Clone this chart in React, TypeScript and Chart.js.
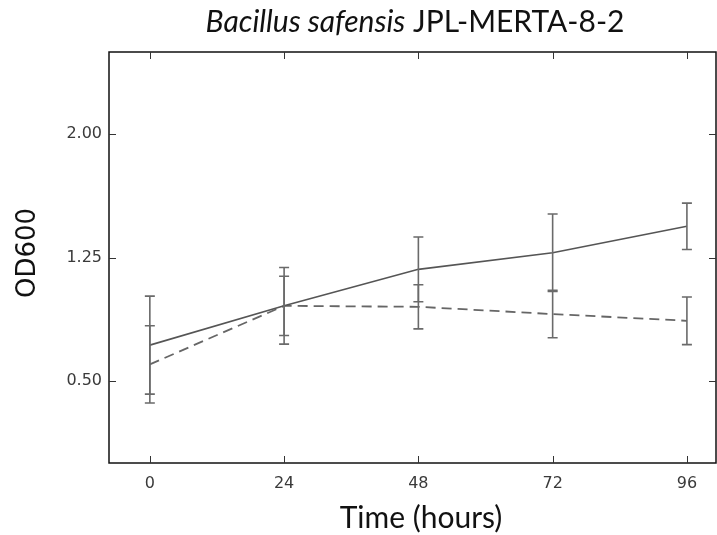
import React, { useEffect, useRef } from "react";
import { Chart, registerables } from "chart.js";

Chart.register(...registerables);

const hours = [0, 24, 48, 72, 96];
const solidValues = [0.717, 0.956, 1.178, 1.279, 1.44];
const solidErrors = [0.298, 0.233, 0.197, 0.236, 0.141];
const dashedValues = [0.6, 0.956, 0.95, 0.906, 0.865];
const dashedErrors = [0.235, 0.18, 0.134, 0.144, 0.145];
const yTicks = [0.5, 1.25, 2.0];
const titleItalic = "Bacillus safensis";
const titleRest = " JPL-MERTA-8-2";
const xTitle = "Time (hours)";
const yTitle = "OD600";

const errorBars = [solidErrors, dashedErrors];

const decorPlugin = {
  id: "decor",
  afterDatasetsDraw(chart: any) {
    const ctx = chart.ctx;
    const xs = chart.scales.x;
    const ys = chart.scales.y;
    const area = chart.chartArea;
    ctx.save();
    chart.data.datasets.forEach((ds: any, di: number) => {
      const errs = errorBars[di];
      ctx.strokeStyle = "#6a6a6a";
      ctx.lineWidth = 1.6;
      ds.data.forEach((p: any, i: number) => {
        const x = xs.getPixelForValue(p.x);
        const yt = ys.getPixelForValue(p.y + errs[i]);
        const yb = ys.getPixelForValue(p.y - errs[i]);
        ctx.beginPath();
        ctx.moveTo(x, yt);
        ctx.lineTo(x, yb);
        ctx.moveTo(x - 5, yt);
        ctx.lineTo(x + 5, yt);
        ctx.moveTo(x - 5, yb);
        ctx.lineTo(x + 5, yb);
        ctx.stroke();
      });
    });
    ctx.strokeStyle = "#111";
    ctx.lineWidth = 1.5;
    ctx.strokeRect(area.left, area.top, area.right - area.left, area.bottom - area.top);
    ctx.lineWidth = 1;
    ctx.strokeStyle = "#333";
    ctx.beginPath();
    hours.forEach((h) => {
      const x = Math.round(xs.getPixelForValue(h)) + 0.5;
      ctx.moveTo(x, area.bottom);
      ctx.lineTo(x, area.bottom - 7);
      ctx.moveTo(x, area.top);
      ctx.lineTo(x, area.top + 7);
    });
    yTicks.forEach((v) => {
      const y = Math.round(ys.getPixelForValue(v)) + 0.5;
      ctx.moveTo(area.left, y);
      ctx.lineTo(area.left + 7, y);
      ctx.moveTo(area.right, y);
      ctx.lineTo(area.right - 7, y);
    });
    ctx.stroke();
    ctx.restore();
  },
  afterDraw(chart: any) {
    const ctx = chart.ctx;
    ctx.save();
    ctx.fillStyle = "#111";
    const italicFont = "italic 30px Lato";
    const normalFont = "30px Lato";
    ctx.font = italicFont;
    const w1 = ctx.measureText(titleItalic).width;
    ctx.font = normalFont;
    const w2 = ctx.measureText(titleRest).width;
    const cx = 415;
    const x0 = cx - (w1 + w2) / 2;
    ctx.textBaseline = "alphabetic";
    ctx.textAlign = "left";
    ctx.font = italicFont;
    ctx.fillText(titleItalic, x0, 32);
    ctx.font = normalFont;
    ctx.fillText(titleRest, x0 + w1, 32);
    ctx.textAlign = "center";
    ctx.textBaseline = "middle";
    ctx.font = "30px Lato";
    ctx.fillText(xTitle, 421, 518);
    ctx.translate(28, 253);
    ctx.rotate(-Math.PI / 2);
    ctx.font = "26px 'DejaVu Sans'";
    ctx.fillText(yTitle, 0, 0);
    ctx.restore();
  },
};

export default function App() {
  const ref = useRef<HTMLCanvasElement>(null);
  useEffect(() => {
    if (!ref.current) return;
    const chart = new Chart(ref.current, {
      type: "line",
      data: {
        datasets: [
          {
            data: hours.map((h, i) => ({ x: h, y: solidValues[i] })),
            borderColor: "#555555",
            borderWidth: 1.6,
            pointRadius: 0,
            fill: false,
          },
          {
            data: hours.map((h, i) => ({ x: h, y: dashedValues[i] })),
            borderColor: "#666666",
            borderWidth: 1.8,
            borderDash: [10, 6],
            pointRadius: 0,
            fill: false,
          },
        ],
      },
      options: {
        animation: false,
        responsive: false,
        layout: { padding: { top: 52, right: 1, left: 0, bottom: 0 } },
        plugins: { legend: { display: false }, title: { display: false }, tooltip: { enabled: false } },
        scales: {
          x: {
            type: "linear",
            min: -7.3,
            max: 101.2,
            afterBuildTicks: (s: any) => {
              s.ticks = hours.map((v) => ({ value: v }));
            },
            afterFit: (s: any) => {
              s.height = 72;
            },
            grid: { display: false, drawTicks: false },
            border: { display: false },
            ticks: {
              font: { family: "'DejaVu Sans'", size: 16 },
              color: "#3a3a3a",
              padding: 11,
              maxRotation: 0,
              callback: (v: any) => String(v),
            },
          },
          y: {
            min: 0,
            max: 2.5,
            afterBuildTicks: (s: any) => {
              s.ticks = yTicks.map((v) => ({ value: v }));
            },
            afterFit: (s: any) => {
              s.width = 109;
            },
            grid: { display: false, drawTicks: false },
            border: { display: false },
            ticks: {
              font: { family: "'DejaVu Sans'", size: 16 },
              color: "#3a3a3a",
              padding: 7,
              callback: (v: any) => Number(v).toFixed(2),
            },
          },
        },
      },
      plugins: [decorPlugin],
    });
    return () => chart.destroy();
  }, []);
  return (
    <div style={{ position: "absolute", left: 0, top: 0, width: 717, height: 535, background: "#fff" }}>
      <canvas ref={ref} width={717} height={535} />
    </div>
  );
}
